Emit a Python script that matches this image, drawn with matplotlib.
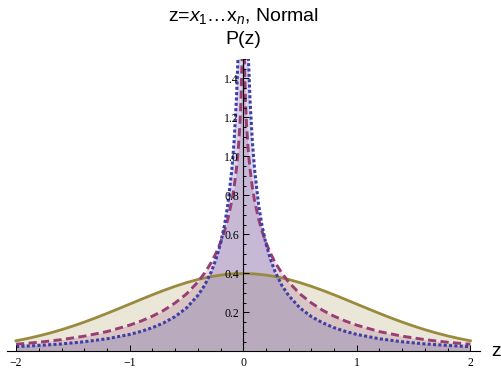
import numpy as np
import matplotlib
matplotlib.use("Agg")
import matplotlib.pyplot as plt
from matplotlib.ticker import MultipleLocator, FormatStrFormatter

FIGSIZE = (5.02, 3.68)
DPI = 100

OLIVE = "#998A3D"
PURPLE = "#993D74"
BLUE = "#3E3EA6"

# right half of each density, the curves are symmetric in z
Z_NORMAL = [0.0, 0.1, 0.2, 0.3, 0.4, 0.5, 0.6, 0.7, 0.8, 0.9, 1.0,
            1.1, 1.2, 1.3, 1.4, 1.5, 1.6, 1.7, 1.8, 1.9, 2.0]
P_NORMAL = [0.3989, 0.3970, 0.3910, 0.3814, 0.3683, 0.3521, 0.3332,
            0.3123, 0.2897, 0.2661, 0.2420, 0.2179, 0.1942, 0.1714,
            0.1497, 0.1295, 0.1109, 0.0940, 0.0790, 0.0656, 0.0540]

Z_PROD = [0.005, 0.01, 0.02, 0.03, 0.045, 0.06, 0.08, 0.1, 0.135,
          0.165, 0.2, 0.24, 0.28, 0.34, 0.4, 0.5, 0.6, 0.7, 0.8, 0.9,
          1.0, 1.2, 1.4, 1.6, 1.8, 2.0]
# n = 2
P_PROD2 = [1.723, 1.503, 1.282, 1.153, 1.024, 0.934, 0.842, 0.773,
           0.679, 0.617, 0.558, 0.503, 0.457, 0.401, 0.355, 0.294,
           0.248, 0.210, 0.180, 0.155, 0.134, 0.101, 0.0776, 0.0598,
           0.0464, 0.0363]
# n = 3
P_PROD3 = [3.959, 3.057, 2.277, 1.876, 1.518, 1.289, 1.080, 0.933,
           0.754, 0.646, 0.552, 0.472, 0.409, 0.338, 0.286, 0.222,
           0.178, 0.146, 0.121, 0.102, 0.0865, 0.0641, 0.0488, 0.0378,
           0.0299, 0.0238]

TITLE = r"z=$x_1$…x$_n$, Normal"


def mirror(z, p, has_zero=False):
    z = np.asarray(z)
    p = np.asarray(p)
    start = 1 if has_zero else 0
    zz = np.concatenate([-z[start:][::-1], z])
    pp = np.concatenate([p[start:][::-1], p])
    return zz, pp


def main():
    plt.rcParams["mathtext.fontset"] = "custom"
    plt.rcParams["mathtext.rm"] = "Liberation Sans"
    plt.rcParams["mathtext.it"] = "Liberation Sans:italic"

    fig = plt.figure(figsize=FIGSIZE, dpi=DPI)
    ax = fig.add_axes([7 / 502, 1 - 351.3 / 368, 473 / 502, 292.5 / 368])

    z1, p1 = mirror(Z_NORMAL, P_NORMAL, has_zero=True)
    z2, p2 = mirror(Z_PROD, P_PROD2)
    z3, p3 = mirror(Z_PROD, P_PROD3)

    # fills first, like Filling -> Axis
    for zz, pp, col in [(z1, p1, OLIVE), (z2, p2, PURPLE), (z3, p3, BLUE)]:
        ax.fill_between(zz, 0, pp, color=col, alpha=0.2, lw=0)

    ax.plot(z1, p1, color=OLIVE, lw=2.0)
    ax.plot(z2, p2, color=PURPLE, lw=2.1, dashes=(2.8, 1.5),
            dash_capstyle="butt")
    ax.plot(z3, p3, color=BLUE, lw=2.2, dashes=(1.0, 0.75),
            dash_capstyle="butt")

    ax.set_xlim(-2.08, 2.085)
    ax.set_ylim(0, 1.5)

    # axes through the origin
    ax.spines["top"].set_visible(False)
    ax.spines["right"].set_visible(False)
    ax.spines["left"].set_position(("data", 0))
    ax.spines["bottom"].set_position(("data", 0))
    for s in ["left", "bottom"]:
        ax.spines[s].set_linewidth(0.8)
    ax.set_axisbelow(False)

    ax.xaxis.set_major_locator(MultipleLocator(1))
    ax.xaxis.set_minor_locator(MultipleLocator(0.2))
    ax.yaxis.set_major_locator(MultipleLocator(0.2))
    ax.yaxis.set_minor_locator(MultipleLocator(0.05))
    ax.yaxis.set_major_formatter(FormatStrFormatter("%.1f"))
    ax.set_yticks([0.2, 0.4, 0.6, 0.8, 1.0, 1.2, 1.4])

    ax.tick_params(which="both", direction="in", width=0.7)
    ax.tick_params(which="major", length=4.2, labelsize=8.5)
    ax.tick_params(which="minor", length=2.4)
    ax.tick_params(axis="x", which="major", pad=4)
    ax.tick_params(axis="y", which="major", pad=3)
    for lab in ax.get_xticklabels() + ax.get_yticklabels():
        lab.set_family("Liberation Serif")

    fig.text(243.5 / 502, 1 - 16.5 / 368, TITLE, ha="center", va="center",
             fontsize=14, family="Liberation Sans")
    fig.text(243.5 / 502, 1 - 40 / 368, "P(z)", ha="center", va="center",
             fontsize=14, family="Liberation Sans")
    fig.text(496 / 502, 1 - 351 / 368, "z", ha="center", va="center",
             fontsize=14, family="Liberation Sans")

    fig.savefig("out.png", dpi=DPI)


if __name__ == "__main__":
    main()
